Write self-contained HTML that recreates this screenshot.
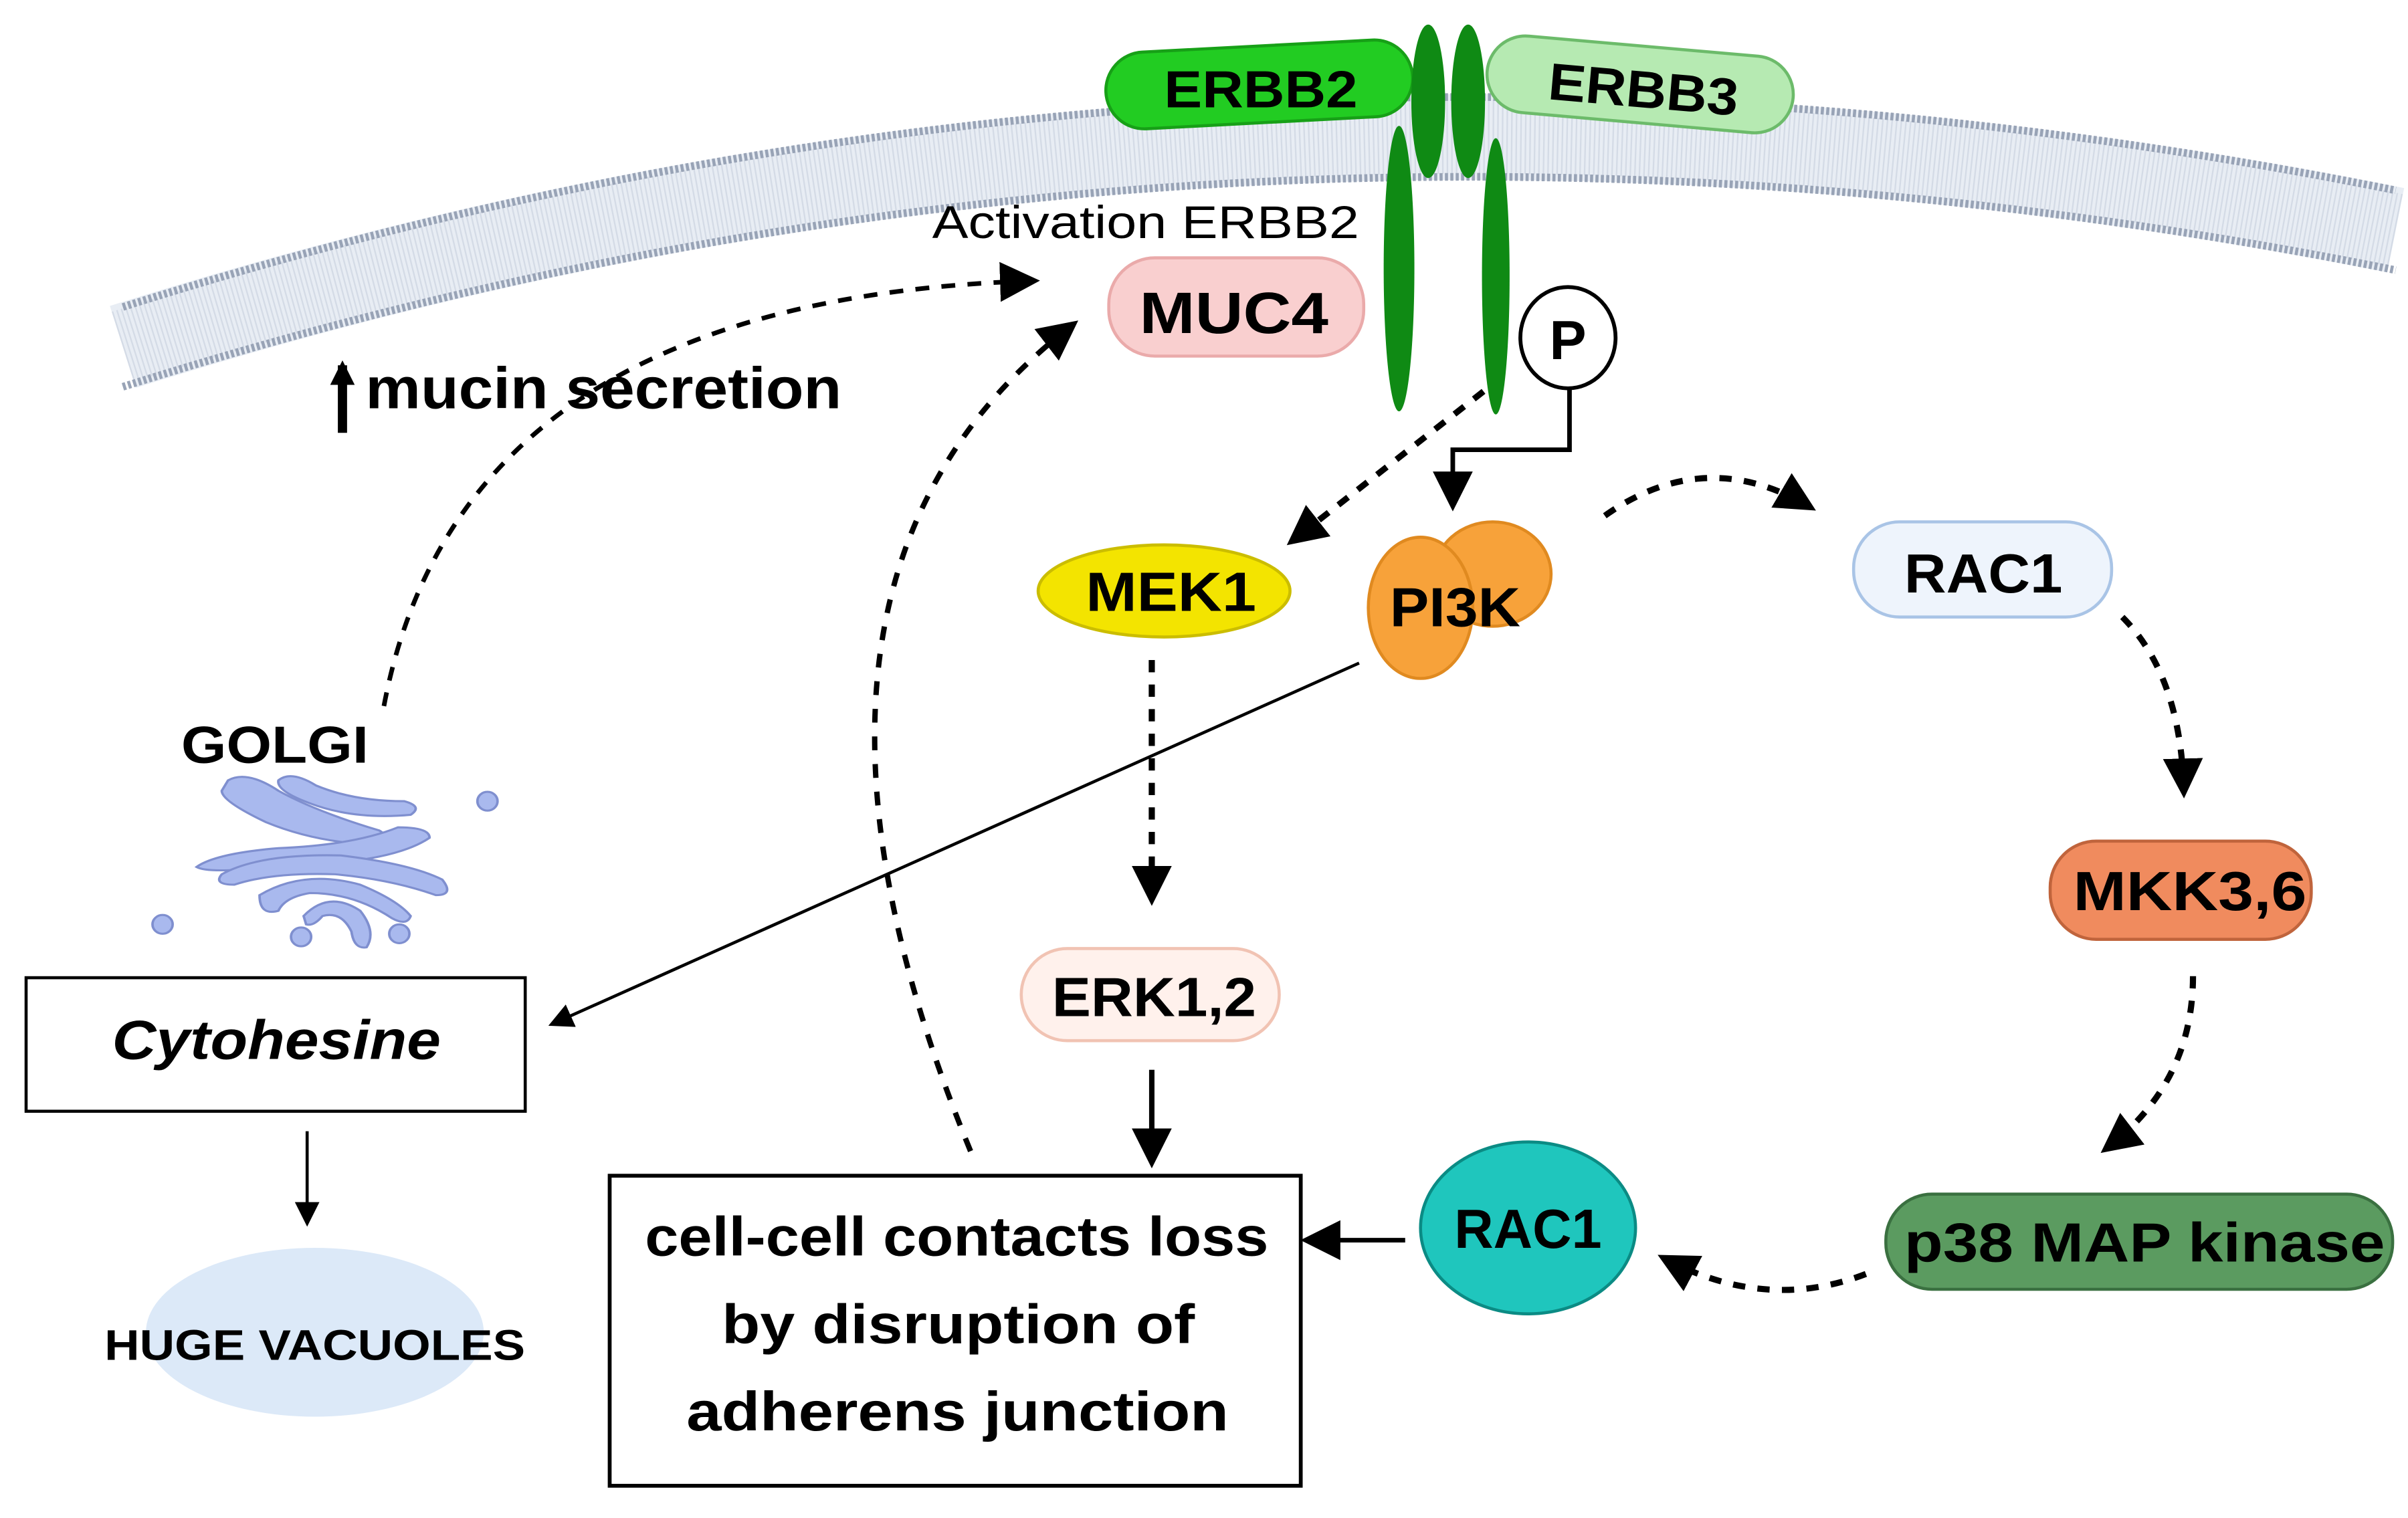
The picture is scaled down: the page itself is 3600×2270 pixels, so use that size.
<!DOCTYPE html>
<html><head><meta charset="utf-8"><style>
html,body{margin:0;padding:0;background:#fff;}
svg{display:block;}
text{font-family:"Liberation Sans",sans-serif;font-weight:bold;fill:#000;}
</style></head><body>
<svg width="3600" height="2270" viewBox="0 0 1568 989" preserveAspectRatio="none" xmlns="http://www.w3.org/2000/svg">
<defs>
<marker id="ahb" viewBox="0 0 10 10" refX="8" refY="5" markerWidth="26" markerHeight="26" orient="auto" markerUnits="userSpaceOnUse"><path d="M0,0 L10,5 L0,10 z" fill="#000"/></marker>
<marker id="ahs" viewBox="0 0 10 10" refX="8" refY="5" markerWidth="16" markerHeight="16" orient="auto" markerUnits="userSpaceOnUse"><path d="M0,0 L10,5 L0,10 z" fill="#000"/></marker>
</defs>
<!-- membrane -->
<path d="M80,226 Q800,-2 1560,150" fill="none" stroke="#e8edf4" stroke-width="56"/>
<path d="M80,226 Q800,-2 1560,150" fill="none" stroke="#d4dbe6" stroke-width="48" stroke-dasharray="1 2"/>
<path d="M80,200 Q800,-28 1560,124" fill="none" stroke="#98a3b6" stroke-width="5" stroke-dasharray="2 1.5"/>
<path d="M80,252 Q800,24 1560,176" fill="none" stroke="#98a3b6" stroke-width="5" stroke-dasharray="2 1.5"/>

<!-- receptors -->
<rect x="720" y="30" width="200" height="50" rx="25" fill="#22cc22" stroke="#17a017" stroke-width="2" transform="rotate(-3 820 55)"/>
<text x="758" y="70" font-size="34" textLength="126" lengthAdjust="spacingAndGlyphs">ERBB2</text>
<rect x="968" y="30" width="200" height="50" rx="25" fill="#b6eab2" stroke="#6cbb6a" stroke-width="2" transform="rotate(5 1068 55)"/>
<text x="1008" y="70" font-size="34" textLength="124" lengthAdjust="spacingAndGlyphs" transform="rotate(5 1070 60)">ERBB3</text>
<ellipse cx="930" cy="66" rx="11" ry="50" fill="#0f8a14"/>
<ellipse cx="956" cy="66" rx="11" ry="50" fill="#0f8a14"/>
<ellipse cx="911" cy="175" rx="10" ry="93" fill="#0f8a14"/>
<ellipse cx="974" cy="180" rx="9" ry="90" fill="#0f8a14"/>

<text x="607" y="155" font-size="30" textLength="278" lengthAdjust="spacingAndGlyphs" style="font-weight:normal">Activation ERBB2</text>
<rect x="722" y="168" width="166" height="64" rx="30" fill="#f9cfcf" stroke="#eaaaaa" stroke-width="2"/>
<text x="742" y="217" font-size="38" textLength="123" lengthAdjust="spacingAndGlyphs">MUC4</text>

<ellipse cx="1021" cy="220" rx="31" ry="33" fill="#fff" stroke="#000" stroke-width="2.5"/>
<text x="1021" y="234" font-size="36" text-anchor="middle">P</text>

<!-- mucin secretion -->
<line x1="223" y1="282" x2="223" y2="238" stroke="#000" stroke-width="6" marker-end="url(#ahs)"/>
<text x="238" y="266" font-size="38" textLength="310" lengthAdjust="spacingAndGlyphs">mucin secretion</text>

<!-- dashed curves -->
<path d="M250,460 Q300,195 672,183" fill="none" stroke="#000" stroke-width="3" stroke-dasharray="9 8" marker-end="url(#ahb)"/>
<path d="M632,750 Q480,380 698,212" fill="none" stroke="#000" stroke-width="3.5" stroke-dasharray="9 9" marker-end="url(#ahb)"/>
<line x1="966" y1="255" x2="842" y2="352" stroke="#000" stroke-width="4" stroke-dasharray="8 8" marker-end="url(#ahb)"/>
<path d="M1022,252 L1022,293 L946,293 L946,328" fill="none" stroke="#000" stroke-width="3" marker-end="url(#ahb)"/>
<path d="M1045,336 Q1110,290 1178,330" fill="none" stroke="#000" stroke-width="4" stroke-dasharray="8 8" marker-end="url(#ahb)"/>
<path d="M1382,402 Q1420,440 1422,515" fill="none" stroke="#000" stroke-width="4" stroke-dasharray="8 8" marker-end="url(#ahb)"/>
<path d="M1428,636 Q1428,705 1372,748" fill="none" stroke="#000" stroke-width="4" stroke-dasharray="8 8" marker-end="url(#ahb)"/>
<path d="M1215,830 Q1150,855 1084,820" fill="none" stroke="#000" stroke-width="4" stroke-dasharray="8 8" marker-end="url(#ahb)"/>
<line x1="750" y1="430" x2="750" y2="585" stroke="#000" stroke-width="4" stroke-dasharray="8 8" marker-end="url(#ahb)"/>

<!-- MEK1 -->
<ellipse cx="758" cy="385" rx="82" ry="30" fill="#f3e400" stroke="#cbbd00" stroke-width="2"/>
<text x="707" y="398" font-size="36" textLength="111" lengthAdjust="spacingAndGlyphs">MEK1</text>
<!-- PI3K -->
<ellipse cx="972" cy="374" rx="38" ry="34" fill="#f7a23a" stroke="#e08a20" stroke-width="2"/>
<ellipse cx="925" cy="396" rx="34" ry="46" fill="#f7a23a" stroke="#e08a20" stroke-width="2"/>
<text x="905" y="408" font-size="36" textLength="85" lengthAdjust="spacingAndGlyphs">PI3K</text>
<!-- RAC1 top -->
<rect x="1207" y="340" width="168" height="62" rx="30" fill="#eef4fc" stroke="#a9c4e6" stroke-width="2"/>
<text x="1240" y="386" font-size="36" textLength="103" lengthAdjust="spacingAndGlyphs">RAC1</text>
<!-- MKK -->
<rect x="1335" y="548" width="170" height="64" rx="30" fill="#f08b5e" stroke="#c0643c" stroke-width="2"/>
<text x="1350" y="593" font-size="36" textLength="152" lengthAdjust="spacingAndGlyphs">MKK3,6</text>
<!-- p38 -->
<rect x="1228" y="778" width="330" height="62" rx="30" fill="#5b9b60" stroke="#3a7040" stroke-width="2"/>
<text x="1240" y="822" font-size="36" textLength="313" lengthAdjust="spacingAndGlyphs">p38 MAP kinase</text>
<!-- RAC1 circle -->
<ellipse cx="995" cy="800" rx="70" ry="56" fill="#1fc6bd" stroke="#0b8b84" stroke-width="2"/>
<text x="947" y="813" font-size="36" textLength="96" lengthAdjust="spacingAndGlyphs">RAC1</text>
<line x1="915" y1="808" x2="852" y2="808" stroke="#000" stroke-width="3" marker-end="url(#ahb)"/>
<!-- ERK -->
<rect x="665" y="618" width="168" height="60" rx="30" fill="#fff1ec" stroke="#f1c3b3" stroke-width="2"/>
<text x="685" y="662" font-size="36" textLength="133" lengthAdjust="spacingAndGlyphs">ERK1,2</text>
<line x1="750" y1="697" x2="750" y2="756" stroke="#000" stroke-width="3.5" marker-end="url(#ahb)"/>
<!-- cell box -->
<rect x="397" y="766" width="450" height="202" fill="#fff" stroke="#000" stroke-width="2.5"/>
<text x="420" y="818" font-size="36" textLength="406" lengthAdjust="spacingAndGlyphs">cell-cell contacts loss</text>
<text x="470" y="875" font-size="36" textLength="308" lengthAdjust="spacingAndGlyphs">by disruption of</text>
<text x="447" y="932" font-size="36" textLength="353" lengthAdjust="spacingAndGlyphs">adherens junction</text>
<!-- PI3K -> cytohesine -->
<line x1="885" y1="432" x2="360" y2="667" stroke="#000" stroke-width="2" marker-end="url(#ahs)"/>
<!-- Cytohesine -->
<rect x="17" y="637" width="325" height="87" fill="#fff" stroke="#000" stroke-width="2"/>
<text x="73" y="690" font-size="36" font-style="italic" textLength="214" lengthAdjust="spacingAndGlyphs">Cytohesine</text>
<line x1="200" y1="737" x2="200" y2="796" stroke="#000" stroke-width="2" marker-end="url(#ahs)"/>
<ellipse cx="205" cy="868" rx="110" ry="55" fill="#dce9f8"/>
<text x="68" y="886" font-size="28" textLength="274" lengthAdjust="spacingAndGlyphs">HUGE VACUOLES</text>
<!-- Golgi -->
<text x="118" y="497" font-size="34" textLength="122" lengthAdjust="spacingAndGlyphs">GOLGI</text>
<g fill="#a9b9ee" stroke="#7f8fcf" stroke-width="2" transform="translate(128,505) scale(0.82,0.68) translate(-175,-495)">
<path d="M200,500 Q215,490 240,510 Q270,530 320,548 Q330,555 320,562 Q270,560 230,540 Q195,520 195,510 Z"/>
<path d="M240,500 Q250,490 270,505 Q300,520 340,520 Q355,525 345,533 Q300,538 265,522 Q238,510 240,500 Z"/>
<path d="M175,583 Q190,570 240,565 Q300,562 335,545 Q360,545 360,555 Q330,580 240,582 Q185,590 175,583 Z"/>
<path d="M195,590 Q225,570 290,572 Q345,580 370,595 Q380,610 365,610 Q330,595 285,590 Q235,588 205,600 Q188,600 195,590 Z"/>
<path d="M225,610 Q260,585 305,600 Q335,615 345,630 Q342,640 330,632 Q300,608 265,608 Q245,612 240,625 Q225,630 225,610 Z"/>
<path d="M260,630 Q280,605 305,625 Q318,645 310,660 Q300,662 298,645 Q290,625 275,630 Q268,640 262,638 Z"/>
<ellipse cx="148" cy="638" rx="8" ry="9"/>
<ellipse cx="258" cy="650" rx="8" ry="9"/>
<ellipse cx="336" cy="647" rx="8" ry="9"/>
<ellipse cx="406" cy="520" rx="8" ry="9"/>
</g>
</svg>
</body></html>
